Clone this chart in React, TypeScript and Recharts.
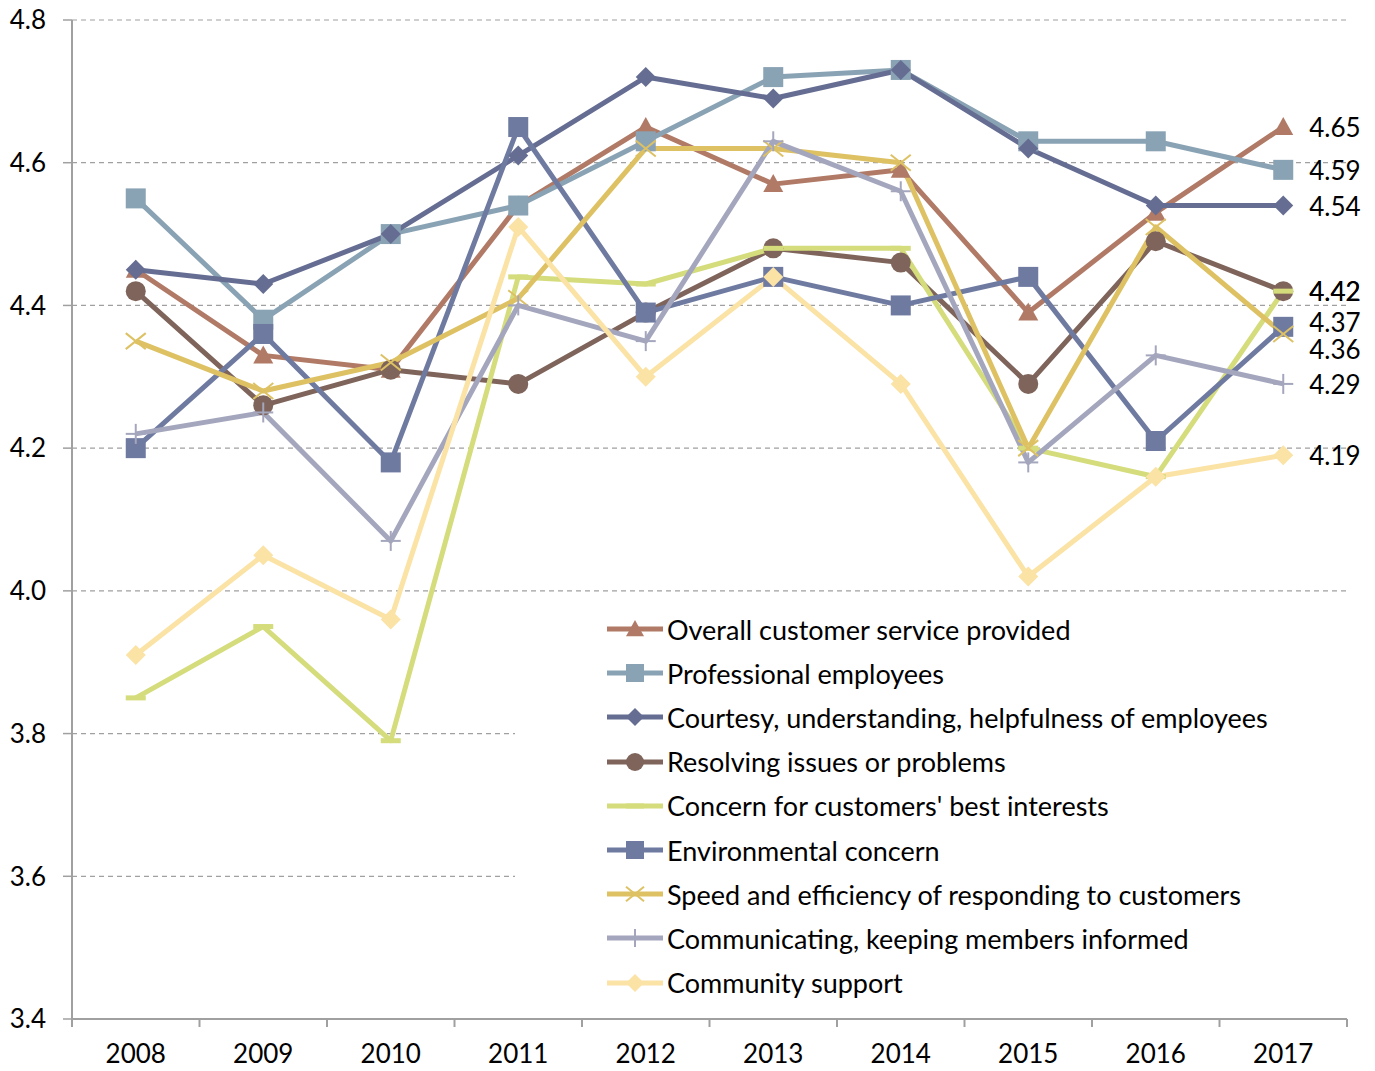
import { LineChart, Line, XAxis, YAxis, CartesianGrid, Legend, LabelList } from "recharts"

const YEARS = ["2008", "2009", "2010", "2011", "2012", "2013", "2014", "2015", "2016", "2017"]
const Y_TICKS = [3.4, 3.6, 3.8, 4.0, 4.2, 4.4, 4.6, 4.8]

const OVERALL = [4.45, 4.33, 4.31, 4.54, 4.65, 4.57, 4.59, 4.39, 4.53, 4.65]
const PROFESSIONAL = [4.55, 4.38, 4.5, 4.54, 4.63, 4.72, 4.73, 4.63, 4.63, 4.59]
const COURTESY = [4.45, 4.43, 4.5, 4.61, 4.72, 4.69, 4.73, 4.62, 4.54, 4.54]
const RESOLVING = [4.42, 4.26, 4.31, 4.29, 4.39, 4.48, 4.46, 4.29, 4.49, 4.42]
const CONCERN = [3.85, 3.95, 3.79, 4.44, 4.43, 4.48, 4.48, 4.2, 4.16, 4.42]
const ENVIRONMENTAL = [4.2, 4.36, 4.18, 4.65, 4.39, 4.44, 4.4, 4.44, 4.21, 4.37]
const SPEED = [4.35, 4.28, 4.32, 4.41, 4.62, 4.62, 4.6, 4.2, 4.51, 4.36]
const COMMUNICATING = [4.22, 4.25, 4.07, 4.4, 4.35, 4.63, 4.56, 4.18, 4.33, 4.29]
const COMMUNITY = [3.91, 4.05, 3.96, 4.51, 4.3, 4.44, 4.29, 4.02, 4.16, 4.19]

type Shape = "triangle" | "square" | "diamond" | "circle" | "dash" | "x" | "plus"

const SERIES: { key: string; name: string; values: number[]; color: string; shape: Shape; labelDy: number }[] = [
  { key: "overall", name: "Overall customer service provided", values: OVERALL, color: "#b07a66", shape: "triangle", labelDy: 0 },
  { key: "professional", name: "Professional employees", values: PROFESSIONAL, color: "#8aa3b4", shape: "square", labelDy: 0 },
  { key: "courtesy", name: "Courtesy, understanding, helpfulness of employees", values: COURTESY, color: "#656d92", shape: "diamond", labelDy: 0 },
  { key: "resolving", name: "Resolving issues or problems", values: RESOLVING, color: "#7e645a", shape: "circle", labelDy: 0 },
  { key: "concern", name: "Concern for customers' best interests", values: CONCERN, color: "#d4dc7c", shape: "dash", labelDy: 0 },
  { key: "environmental", name: "Environmental concern", values: ENVIRONMENTAL, color: "#6f7aa1", shape: "square", labelDy: -5 },
  { key: "speed", name: "Speed and efficiency of responding to customers", values: SPEED, color: "#ddc163", shape: "x", labelDy: 15 },
  { key: "communicating", name: "Communicating, keeping members informed", values: COMMUNICATING, color: "#a4a6bd", shape: "plus", labelDy: 0 },
  { key: "community", name: "Community support", values: COMMUNITY, color: "#fbe2a5", shape: "diamond", labelDy: 0 },
]

const data = YEARS.map((year, i) => {
  const row: Record<string, string | number> = { year }
  SERIES.forEach((s) => {
    row[s.key] = s.values[i]
  })
  return row
})

const FONT = "Lato, 'Open Sans', sans-serif"
const HALF_BAND = 63.75

function Marker({ cx, cy, shape, color, size = 10 }: { cx: number; cy: number; shape: Shape; color: string; size?: number }) {
  const s = size
  switch (shape) {
    case "triangle":
      return <polygon points={`${cx},${cy - s} ${cx - s},${cy + s * 0.8} ${cx + s},${cy + s * 0.8}`} fill={color} />
    case "square":
      return <rect x={cx - s} y={cy - s} width={s * 2} height={s * 2} fill={color} />
    case "diamond":
      return <polygon points={`${cx},${cy - s} ${cx + s},${cy} ${cx},${cy + s} ${cx - s},${cy}`} fill={color} />
    case "circle":
      return <circle cx={cx} cy={cy} r={s} fill={color} />
    case "dash":
      return <rect x={cx - s} y={cy - 2.5} width={s * 2} height={5} fill={color} />
    case "x":
      return (
        <g stroke={color} strokeWidth={2}>
          <line x1={cx - s} y1={cy - s * 0.8} x2={cx + s} y2={cy + s * 0.8} />
          <line x1={cx - s} y1={cy + s * 0.8} x2={cx + s} y2={cy - s * 0.8} />
        </g>
      )
    case "plus":
      return (
        <g stroke={color} strokeWidth={2}>
          <line x1={cx - s} y1={cy} x2={cx + s} y2={cy} />
          <line x1={cx} y1={cy - s} x2={cx} y2={cy + s} />
        </g>
      )
  }
  return null
}

function YearTick(props: any) {
  const { x, y, payload, index } = props
  return (
    <g>
      <line x1={x - HALF_BAND} x2={x - HALF_BAND} y1={y} y2={y + 8} stroke="#a0a0a0" strokeWidth={2} />
      {index === YEARS.length - 1 && (
        <line x1={x + HALF_BAND} x2={x + HALF_BAND} y1={y} y2={y + 8} stroke="#a0a0a0" strokeWidth={2} />
      )}
      <text x={x} y={y + 34} textAnchor="middle" dominantBaseline="central" fontSize={26} fill="#000" fontFamily={FONT}>
        {payload.value}
      </text>
    </g>
  )
}

function endLabel(dy: number) {
  return (props: any) => {
    if (props.index !== YEARS.length - 1) return null
    const x = props.viewBox?.x ?? props.x
    const y = props.viewBox?.y ?? props.y
    return (
      <text x={x + 26} y={y + dy} dominantBaseline="central" fontSize={26} fill="#000" fontFamily={FONT}>
        {Number(props.value).toFixed(2)}
      </text>
    )
  }
}

function LegendBox() {
  return (
    <div style={{ background: "#fff", width: "100%", height: "100%", paddingTop: 7, boxSizing: "border-box", fontFamily: FONT }}>
      {SERIES.map((s) => (
        <div key={s.key} style={{ display: "flex", alignItems: "center", height: 44.2, paddingLeft: 92 }}>
          <svg width={56} height={24} style={{ flex: "none" }}>
            <line x1={0} x2={56} y1={12} y2={12} stroke={s.color} strokeWidth={5} strokeLinecap="round" />
            <Marker cx={28} cy={12} shape={s.shape} color={s.color} size={9} />
          </svg>
          <span style={{ fontSize: 27, color: "#000", marginLeft: 4, whiteSpace: "nowrap" }}>{s.name}</span>
        </div>
      ))}
    </div>
  )
}

export default function App() {
  return (
    <div style={{ fontFamily: FONT, marginTop: -8 }}>
      <LineChart width={1359} height={1070} data={data} margin={{ top: 20, right: 20, left: 0, bottom: 0 }}>
        <CartesianGrid vertical={false} stroke="#a0a0a0" strokeDasharray="5 4" strokeWidth={1.2} />
        <XAxis
          dataKey="year"
          scale="point"
          padding={{ left: HALF_BAND, right: HALF_BAND }}
          interval={0}
          height={51}
          tickSize={0}
          tickMargin={0}
          tickLine={false}
          axisLine={{ stroke: "#a0a0a0", strokeWidth: 2 }}
          tick={<YearTick />}
        />
        <YAxis
          width={64}
          domain={[3.4, 4.8]}
          ticks={Y_TICKS}
          interval={0}
          tickFormatter={(v: number) => v.toFixed(1)}
          tickSize={9}
          tickMargin={17}
          axisLine={{ stroke: "#a0a0a0", strokeWidth: 2 }}
          tickLine={{ stroke: "#a0a0a0", strokeWidth: 1.5 }}
          tick={{ fontSize: 26, fill: "#000", fontFamily: FONT }}
        />
        <Legend
          layout="vertical"
          align="center"
          verticalAlign="middle"
          wrapperStyle={{ left: 507, top: 600, width: 832, height: 418 }}
          content={() => <LegendBox />}
        />
        {SERIES.map((s) => (
          <Line
            key={s.key}
            dataKey={s.key}
            name={s.name}
            type="linear"
            stroke={s.color}
            strokeWidth={5}
            strokeLinejoin="round"
            isAnimationActive={false}
            activeDot={false}
            dot={(p: any) => <Marker key={`${s.key}-${p.index}`} cx={p.cx} cy={p.cy} shape={s.shape} color={s.color} />}
          >
            <LabelList dataKey={s.key} content={endLabel(s.labelDy)} />
          </Line>
        ))}
      </LineChart>
    </div>
  )
}
